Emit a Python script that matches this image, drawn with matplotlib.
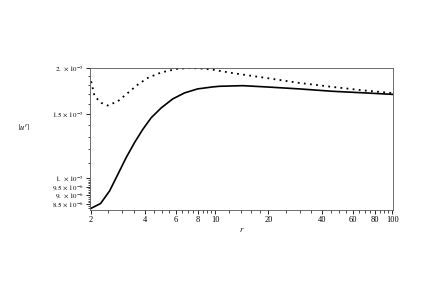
import numpy as np
import matplotlib
matplotlib.use("Agg")
import matplotlib.pyplot as plt
from matplotlib.ticker import FixedLocator, NullFormatter

plt.rcParams['font.family'] = ['Liberation Serif', 'DejaVu Serif']
plt.rcParams['mathtext.fontset'] = 'stix'

# solid curve
r_solid = [2.0, 2.26, 2.54, 2.83, 3.15, 3.51, 3.91, 4.36, 4.97, 5.77, 6.72,
           7.98, 9.70, 10.6, 14.3, 19.4, 29.9, 45.9, 71.1, 100.0]
u_solid = [8.29e-6, 8.54e-6, 9.24e-6, 1.026e-5, 1.139e-5, 1.251e-5, 1.360e-5,
           1.463e-5, 1.557e-5, 1.647e-5, 1.710e-5, 1.754e-5, 1.776e-5,
           1.783e-5, 1.790e-5, 1.776e-5, 1.754e-5, 1.728e-5, 1.710e-5, 1.695e-5]

# dotted curve
r_dot = [2.0, 2.09, 2.28, 2.48, 2.83, 3.22, 3.66, 4.17, 4.97, 6.16, 7.33,
         8.71, 9.70, 12.5, 19.4, 29.9, 45.9, 71.1, 100.0]
u_dot = [1.839e-5, 1.675e-5, 1.607e-5, 1.580e-5, 1.623e-5, 1.710e-5, 1.801e-5,
         1.879e-5, 1.945e-5, 1.991e-5, 2.0e-5, 1.991e-5, 1.979e-5, 1.938e-5,
         1.879e-5, 1.821e-5, 1.776e-5, 1.735e-5, 1.709e-5]

xticks = [2, 4, 6, 8, 10, 20, 40, 60, 80, 100]
yticks = [8.5e-6, 9e-6, 9.5e-6, 1e-5, 1.5e-5, 2e-5]
ylabels = [r'$8.5\,\times\,10^{-6}$', r'$9.\,\times\,10^{-6}$', r'$9.5\,\times\,10^{-6}$',
           r'$1.\,\times\,10^{-5}$', r'$1.5\,\times\,10^{-5}$', r'$2.\,\times\,10^{-5}$']

fig = plt.figure(figsize=(4.29, 2.91), dpi=100)
ax = fig.add_axes([90/429, 1-210/291, 303/429, 142/291])

ax.plot(r_solid, u_solid, color='black', lw=1.2)
ax.plot(r_dot, u_dot, color='black', lw=1.3, linestyle=(0, (1, 2.4)))

ax.set_xscale('log')
ax.set_yscale('log')
ax.set_xlim(1.97, 101)
ax.set_ylim(8.2e-6, 2.0e-5)

ax.xaxis.set_major_locator(FixedLocator(xticks))
ax.set_xticklabels([str(t) for t in xticks])
xminor = list(np.arange(2.5, 10, 0.5)) + list(np.arange(12, 20, 2)) + list(np.arange(25, 100, 5))
ax.xaxis.set_minor_locator(FixedLocator(xminor))
ax.xaxis.set_minor_formatter(NullFormatter())

ax.yaxis.set_major_locator(FixedLocator(yticks))
ax.set_yticklabels(ylabels)
yminor = list(np.arange(8.3e-6, 1e-5, 1e-7)) + [1.1e-5, 1.2e-5, 1.3e-5, 1.4e-5,
                                                1.6e-5, 1.7e-5, 1.8e-5, 1.9e-5]
ax.yaxis.set_minor_locator(FixedLocator(yminor))
ax.yaxis.set_minor_formatter(NullFormatter())

ax.tick_params(axis='x', which='major', labelsize=6)
ax.tick_params(axis='y', which='major', labelsize=5)
ax.tick_params(which='major', direction='out', length=3, width=0.6, pad=1.5)
ax.tick_params(which='minor', direction='out', length=1.8, width=0.5)
for s in ax.spines.values():
    s.set_linewidth(0.6)
    s.set_color('#555555')

ax.set_xlabel(r'$r$', fontsize=6, labelpad=1)
fig.text(24/429, 1-128/291, r'$|u^r|$', fontsize=6, ha='center', va='center')

fig.savefig('out.png', dpi=100)
